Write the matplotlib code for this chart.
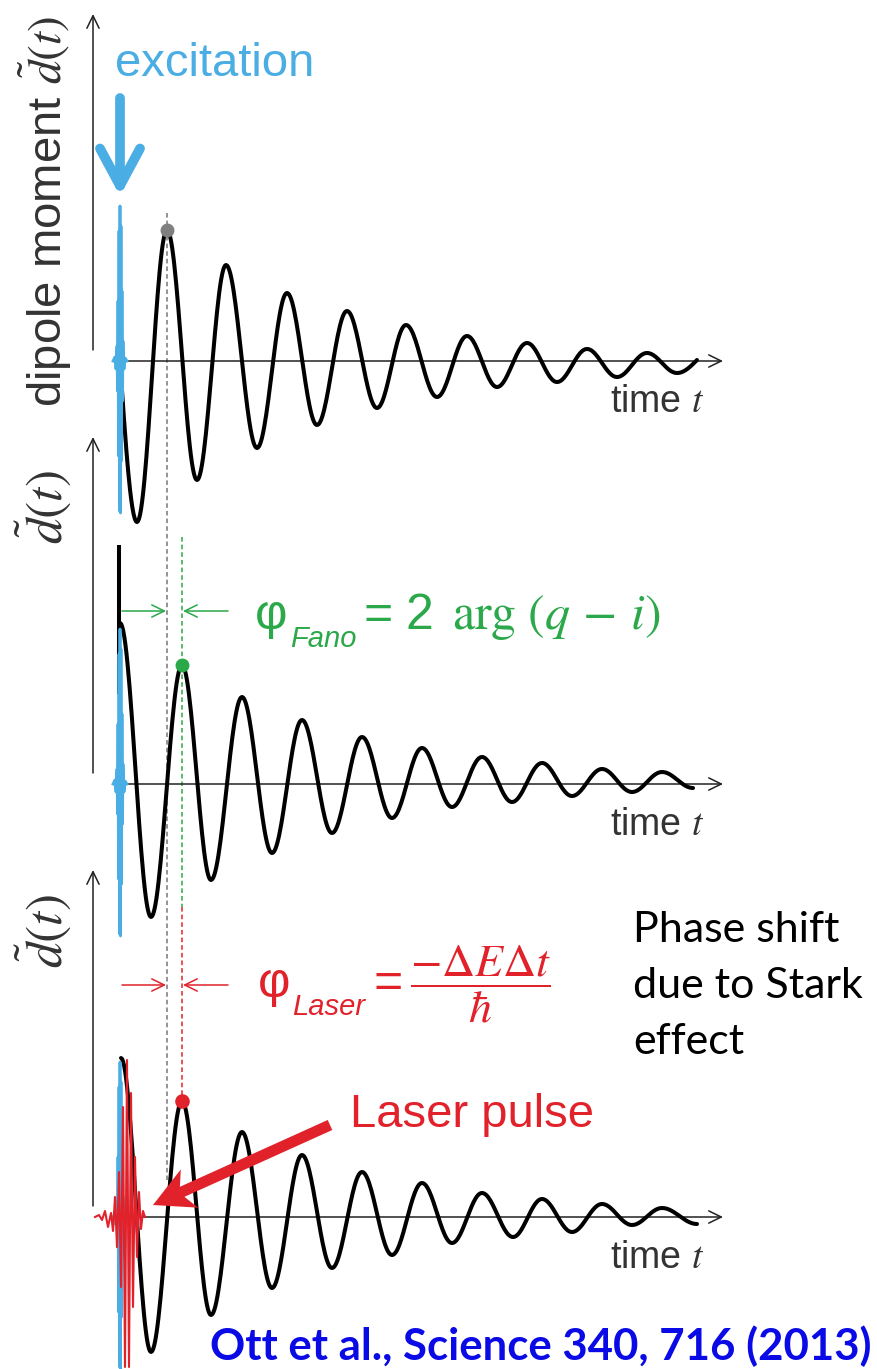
import matplotlib.pyplot as plt
import numpy as np
from matplotlib.patches import FancyArrow

plt.rcParams['font.family'] = ['Liberation Sans', 'DejaVu Sans']
plt.rcParams['mathtext.fontset'] = 'stix'

# dipole traces, extrema
# time = px right of the excitation, amplitude = px above the time axis
t_free = [0, 17, 47, 77, 106, 137, 167, 197, 227, 257, 286, 317, 347, 377, 407, 437, 467, 497, 527, 557, 577]
d_free = [0, -161, 131, -119, 96, -87, 68, -64, 50, -47, 36, -36, 25, -26, 18, -21, 12, -16, 8, -12, 1]

t_fano = [0, 31, 62, 91, 122, 152, 182, 212, 242, 272, 302, 332, 362, 392, 422, 452, 482, 512, 542, 573]
d_fano = [161, -133, 119, -96, 87, -69, 64, -49, 47, -34, 36, -23, 27, -18, 21, -12, 15, -8, 12, -4]
t_jump = [-1, -1]
d_jump = [237, 92]

t_laser = [1, 31, 62, 91, 122, 152, 182, 212, 242, 272, 302, 332, 362, 393, 422, 452, 482, 512, 542, 577]
d_laser = [159, -135, 116, -98, 85, -71, 62, -51, 45, -38, 34, -26, 24, -20, 18, -15, 13, -8, 9, -7]

# attosecond excitation pulse and the laser pulse (extrema)
t_xuv = [-7, -5, -4, -3, -2.5, -2, -1.5, -1, -0.5, 0, 0.5, 1, 1.5, 2, 2.5, 3, 4, 5, 7]
d_xuv = [0, 4, -8, 15, -30, 60, -95, 130, -150, 155, -152, 135, -100, 70, -40, 20, -8, 3, 0]
t_ir = [-25, -21, -18, -15, -12, -9, -7, -5, -3, -1, 1, 3, 5, 7, 9, 11, 13, 15, 17, 19, 21, 23, 25]
d_ir = [0, 2, -3, 6, -10, 4, -14, 20, -30, 45, -70, 110, -150, 157, -150, 124, -90, 60, -40, 25, -12, 6, 0]

ylabels = [r"dipole moment $\tilde{d}(t)$", r"$\tilde{d}(t)$", r"$\tilde{d}(t)$"]
citation = "Ott et al., Science 340, 716 (2013)"
stark_lines = ["Phase shift", "due to Stark", "effect"]

BLUE = '#4aade3'
GREEN = '#2aa84a'
RED = '#e2222b'
INK = '#333333'

X0 = 120
BASES = [361, 784, 1217]
X_END = 723
YAX_X = 93


def trace(t, d, n=30):
    xs, ys = [], []
    for i in range(len(t) - 1):
        s = np.linspace(0, 1, n)
        a0, a1 = d[i], d[i + 1]
        if abs(a0) < 3:
            w = np.sin(np.pi * s / 2)
        elif abs(a1) < 3:
            w = 1 - np.cos(np.pi * s / 2)
        else:
            w = (1 - np.cos(np.pi * s)) / 2
        xs.append(t[i] + (t[i + 1] - t[i]) * s)
        ys.append(a0 + (a1 - a0) * w)
    return np.concatenate(xs), np.concatenate(ys)


fig = plt.figure(figsize=(8.77, 13.69), dpi=100)
ax = fig.add_axes([0, 0, 1, 1])
ax.set_xlim(0, 877)
ax.set_ylim(1369, 0)
ax.axis('off')

arr = dict(arrowstyle='->,head_length=0.45,head_width=0.22', color='#222222', lw=1.1,
           shrinkA=0, shrinkB=0, mutation_scale=20)

for k, base in enumerate(BASES):
    # axes
    ax.annotate('', xy=(X_END, base), xytext=(X0 + 4, base), arrowprops=arr, zorder=2)
    ax.annotate('', xy=(YAX_X, base - 347), xytext=(YAX_X, base - 11), arrowprops=arr, zorder=2)
    ax.text(X0 + 490, base + 51, r"time $t$", fontsize=27, color=INK, va='baseline', ha='left')
    # excitation pulse
    ax.plot(X0 + np.array(t_xuv), base - np.array(d_xuv), color=BLUE, lw=2.0, zorder=4)

ax.text(62, 211, ylabels[0], rotation=90, rotation_mode='anchor', ha='center', va='baseline',
        fontsize=34, color=INK)
ax.text(63, 507, ylabels[1], rotation=90, rotation_mode='anchor', ha='center', va='baseline',
        fontsize=37, color=INK)
ax.text(63, 931, ylabels[2], rotation=90, rotation_mode='anchor', ha='center', va='baseline',
        fontsize=37, color=INK)

# dipole traces
for (t, d), base in zip([(t_free, d_free), (t_fano, d_fano), (t_laser, d_laser)], BASES):
    tx, dy = trace(t, d)
    ax.plot(X0 + tx, base - dy, color='black', lw=2.9, solid_capstyle='round', zorder=3)
ax.plot(X0 + np.array(t_jump), BASES[1] - np.array(d_jump), color='black', lw=2.9, zorder=3)

# laser pulse
ax.plot(X0 + np.array(t_ir), BASES[2] - np.array(d_ir), color=RED, lw=1.5, zorder=5)

# peak markers and guide lines
x_ref = X0 + t_free[2]
x_fano = X0 + t_fano[2]
x_las = X0 + t_laser[2]
dash = (3, 2)
ax.plot([x_ref, x_ref], [BASES[0] - d_free[2] - 17, 1180], color='#777777', lw=1.1,
        dashes=dash, zorder=1)
ax.plot([x_fano, x_fano], [537, 907], color=GREEN, lw=1.1, dashes=dash, zorder=1)
ax.plot([x_las, x_las], [907, BASES[2] - d_laser[2]], color=RED, lw=1.1, dashes=dash, zorder=1)
ax.plot(x_ref, BASES[0] - d_free[2], 'o', ms=9, color='#7f7f7f', zorder=6)
ax.plot(x_fano, BASES[1] - d_fano[2], 'o', ms=9, color=GREEN, zorder=6)
ax.plot(x_las, BASES[2] - d_laser[2], 'o', ms=9.5, color=RED, zorder=6)

# phase shift markers
for y, col in [(611, GREEN), (985, RED)]:
    a = dict(arr, color=col)
    ax.annotate('', xy=(x_ref - 1, y), xytext=(X0 + 2, y), arrowprops=a)
    ax.annotate('', xy=(x_fano + 1, y), xytext=(x_fano + 46, y), arrowprops=a)

# Fano label
ax.text(255, 629, "φ", fontsize=36, color=GREEN, va='baseline')
ax.text(290, 647, "Fano", fontsize=21, color=GREEN, style='italic', va='baseline')
ax.text(363, 629, "=", fontsize=36, color=GREEN, va='baseline')
ax.text(405, 629, "2", fontsize=36, color=GREEN, va='baseline')
ax.text(452, 629, r"$\mathrm{arg}\ (q\,-\,i)$", fontsize=36, color=GREEN, va='baseline')

# laser label
ax.text(258, 997, "φ", fontsize=36, color=RED, va='baseline')
ax.text(292, 1015, "Laser", fontsize=21, color=RED, style='italic', va='baseline')
ax.text(373, 997, "=", fontsize=36, color=RED, va='baseline')
ax.text(481, 994, r"$\dfrac{-\Delta E\Delta t}{\hbar}$", fontsize=33, color=RED,
        ha='center', va='baseline')

# excitation arrow and label
ax.text(115, 76, "excitation", fontsize=34, color=BLUE, va='baseline')
ax.annotate('', xy=(X0, 196), xytext=(X0, 98),
            arrowprops=dict(arrowstyle='->,head_length=0.67,head_width=0.36', color=BLUE,
                            lw=7, shrinkA=0, shrinkB=0, mutation_scale=40))

# laser pulse arrow and label
ax.add_patch(FancyArrow(330, 1125, -177, 80, width=11, head_width=42, head_length=40,
                        length_includes_head=True, overhang=0.2, color=RED, lw=0, zorder=7))
ax.text(350, 1127, "Laser pulse", fontsize=34, color=RED, va='baseline')

for i, line in enumerate(stark_lines):
    ax.text(633, 942 + 56 * i, line, fontsize=31, family='Lato', color='black', va='baseline')

ax.text(872, 1360, citation, fontsize=31.5, family='Lato', weight='bold', color='#0a0ae6',
        ha='right', va='baseline')

fig.savefig('out.png', dpi=100)
